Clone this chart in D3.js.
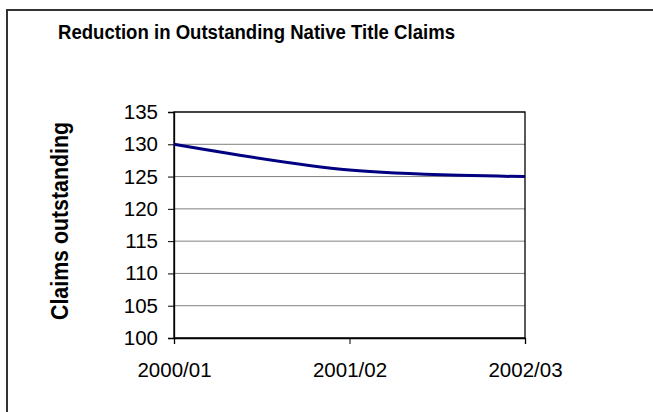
<!DOCTYPE html>
<html>
<head>
<meta charset="utf-8">
<script src="https://cdn.jsdelivr.net/npm/d3@7"></script>
<style>
  html, body { margin: 0; overflow: hidden; background: #fff; }
  svg { display: block; }
</style>
</head>
<body>
<div id="chart"></div>
<script>
const width = 653;
const height = 412;
const fontFamily = `Arial, "Liberation Sans", sans-serif`;

const categories = ["2000/01", "2001/02", "2002/03"];
const claims = [130, 126, 125];
const yTicks = [100, 105, 110, 115, 120, 125, 130, 135];

const plot = { left: 174, right: 525, top: 112, bottom: 338 };

const svg = d3
  .select("#chart")
  .append("svg")
  .attr("width", width)
  .attr("height", height)
  .attr("font-family", fontFamily);

// outer chart frame: only its top and left edges fall inside the picture
svg
  .append("path")
  .attr("d", `M7,${height} V10 H${width}`)
  .attr("fill", "none")
  .attr("stroke", "#333")
  .attr("stroke-width", 2);

// excel stretched the text a bit, so squeeze it back to the measured width
svg
  .append("text")
  .attr("x", 58)
  .attr("y", 39)
  .attr("font-size", 19.5)
  .attr("font-weight", "bold")
  .attr("fill", "#000")
  .attr("textLength", 397)
  .attr("lengthAdjust", "spacingAndGlyphs")
  .text("Reduction in Outstanding Native Title Claims");

const x = d3
  .scalePoint()
  .domain(categories)
  .range([plot.left, plot.right]);

const y = d3
  .scaleLinear()
  .domain([100, 135])
  .range([plot.bottom, plot.top]);

// gridlines
svg
  .append("g")
  .attr("id", "grid")
  .selectAll("line")
  .data(yTicks)
  .enter()
  .append("line")
  .attr("x1", plot.left)
  .attr("x2", plot.right)
  .attr("y1", (d) => y(d))
  .attr("y2", (d) => y(d))
  .attr("stroke", "#808080")
  .attr("stroke-width", 1);

// plot area border
svg
  .append("rect")
  .attr("x", plot.left)
  .attr("y", plot.top)
  .attr("width", plot.right - plot.left)
  .attr("height", plot.bottom - plot.top)
  .attr("fill", "none")
  .attr("stroke", "#000")
  .attr("stroke-width", 1.3);

const yAxis = svg
  .append("g")
  .attr("transform", `translate(${plot.left},0)`)
  .call(d3.axisLeft(y).tickValues(yTicks).tickSize(6).tickPadding(10));

const xAxis = svg
  .append("g")
  .attr("transform", `translate(0,${plot.bottom})`)
  .call(d3.axisBottom(x).tickSize(6).tickPadding(18));

[yAxis, xAxis].forEach((g) => {
  g.attr("font-family", fontFamily).attr("font-size", 20.5);
  g.selectAll("path.domain").attr("stroke", "#000").attr("stroke-width", 1.3);
  g.selectAll(".tick line").attr("stroke", "#000");
  g.selectAll(".tick text").attr("fill", "#000");
});

svg
  .append("text")
  .attr("transform", "translate(68,221) rotate(-90)")
  .attr("text-anchor", "middle")
  .attr("font-size", 23)
  .attr("font-weight", "bold")
  .attr("fill", "#000")
  .attr("textLength", 198)
  .attr("lengthAdjust", "spacingAndGlyphs")
  .text("Claims outstanding");

const line = d3
  .line()
  .x((d, i) => x(categories[i]))
  .y((d) => y(d))
  .curve(d3.curveCatmullRom);

svg
  .append("path")
  .datum(claims)
  .attr("d", line)
  .attr("fill", "none")
  .attr("stroke", "#000080")
  .attr("stroke-width", 3);
</script>
</body>
</html>
